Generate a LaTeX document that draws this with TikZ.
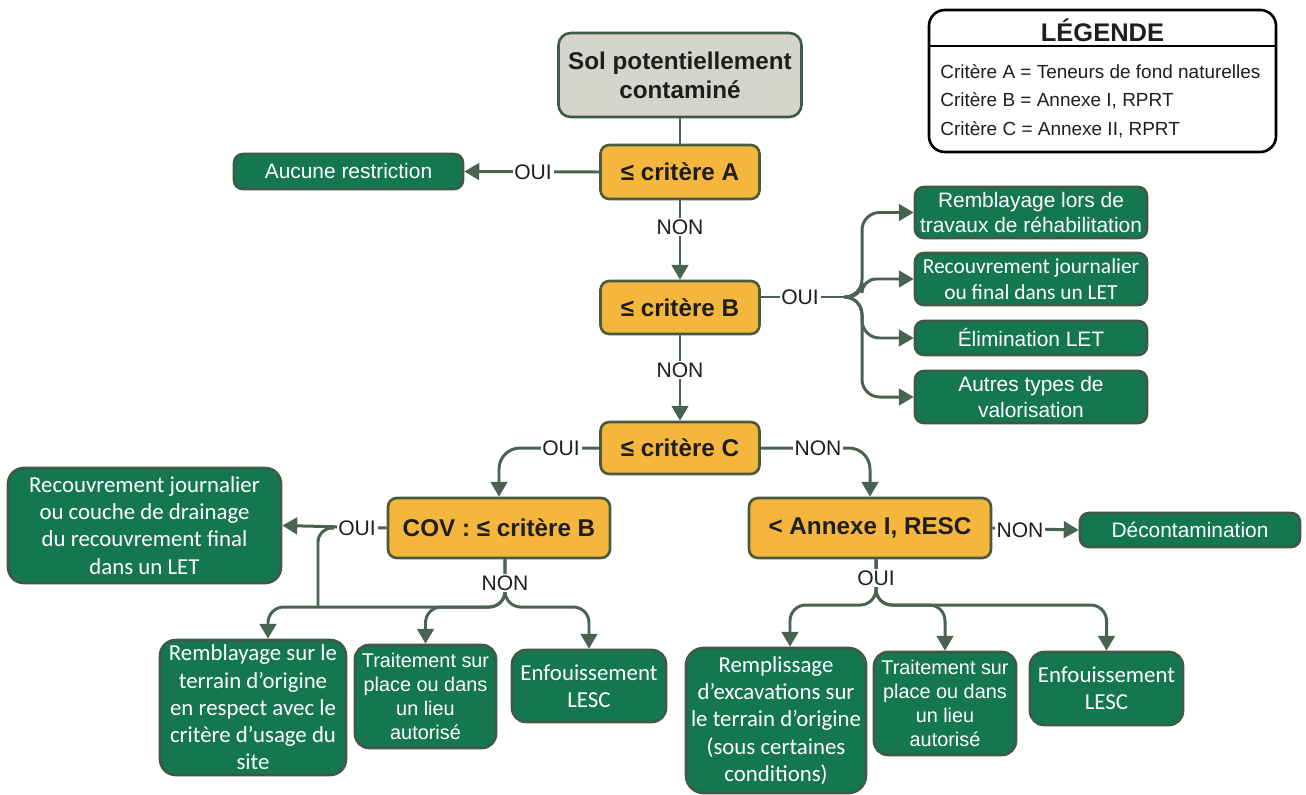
\documentclass[tikz,border=0pt]{standalone}
\usepackage{fontspec}
\setmainfont{Liberation Sans}
\newfontfamily\calib{Carlito}
\usetikzlibrary{arrows.meta}
\definecolor{gfill}{HTML}{157751}
\definecolor{gdraw}{HTML}{3E5A47}
\definecolor{ofill}{HTML}{F4B63C}
\definecolor{odraw}{HTML}{4B5A3E}
\definecolor{sfill}{HTML}{D5D5CD}
\definecolor{lcol}{HTML}{4A6252}
\definecolor{tcol}{HTML}{1E1E1E}
\begin{document}
\begin{tikzpicture}[x=0.02cm,y=-0.02cm,
  sz/.style 2 args={minimum width=#1*0.02cm, minimum height=#2*0.02cm},
  gbox/.style={draw=gdraw, fill=gfill, line width=1.5pt, rounded corners=5pt, text=white, align=center, inner sep=0pt},
  obox/.style={draw=odraw, fill=ofill, line width=1.5pt, rounded corners=5pt, align=center, inner sep=0pt, text=tcol, font=\fontsize{13.8}{16}\selectfont\bfseries},
  ar/.style={font=\fontsize{11.9}{14.5}\selectfont},
  ca/.style={font=\fontsize{13}{15.5}\selectfont\calib},
  cb/.style={font=\fontsize{12.2}{14.6}\selectfont\calib},
  conn/.style={draw=lcol, line width=1.7pt},
  arr/.style={conn, -{Triangle[length=8.5pt,width=9.5pt]}},
  lbl/.style={fill=white, inner sep=1pt, text=tcol, font=\fontsize{12}{14}\selectfont},
]
\useasboundingbox (0,0) rectangle (1306,795);

% nodes
\node[draw=gdraw, fill=sfill, line width=1.5pt, rounded corners=7pt, align=center, inner sep=0pt, text=tcol,
  font=\fontsize{13.8}{16.5}\selectfont\bfseries, sz={243}{84}] (sol) at (680,75) {Sol potentiellement\\contaminé};
\node[obox, sz={159}{54}] (ca) at (680,172) {≤ critère A};
\node[obox, sz={159}{53}] (cbx) at (680,307.5) {≤ critère B};
\node[obox, sz={159}{52}] (cc) at (680,448) {≤ critère C};
\node[obox, sz={222}{60}] (cov) at (499,528) {COV : ≤ critère B};
\node[obox, sz={242}{60}] (ann) at (870,528) {< Annexe I, RESC};

\node[gbox, ar, sz={229}{35}] (auc) at (348.5,171.5) {Aucune restriction};
\node[gbox, ar, sz={232}{51}] (r1) at (1031,212.5) {Remblayage lors de\\travaux de réhabilitation};
\node[gbox, cb, sz={232}{52}] (r2) at (1031,279) {Recouvrement journalier\\ou final dans un LET};
\node[gbox, ar, sz={232}{34}] (r3) at (1031,338) {Élimination LET};
\node[gbox, ar, sz={232}{52}] (r4) at (1031,397) {Autres types de\\valorisation};
\node[gbox, ar, sz={220}{34}] (dec) at (1190,530) {Décontamination};
\node[gbox, ca, sz={273}{115}, rounded corners=9pt] (rec) at (144.5,525.5) {Recouvrement journalier\\ou couche de drainage\\du recouvrement final\\dans un LET};

\node[gbox, ca, sz={186}{135}, rounded corners=9pt] (b1) at (253,707.5) {Remblayage sur le\\terrain d’origine\\en respect avec le\\critère d’usage du\\site};
\node[gbox, font=\fontsize{11.3}{13.6}\selectfont, sz={141}{103}, rounded corners=8pt] (b2) at (425.5,696.5) {Traitement sur\\place ou dans\\un lieu\\autorisé};
\node[gbox, ca, sz={154}{72}, rounded corners=8pt] (b3) at (589,686) {Enfouissement\\LESC};

\node[gbox, ca, sz={180}{145}, rounded corners=10pt] (c1) at (776,720.5) {Remplissage\\d’excavations sur\\le terrain d’origine\\(sous certaines\\conditions)};
\node[gbox, font=\fontsize{11.3}{13.6}\selectfont, sz={142}{103}, rounded corners=8pt] (c2) at (945,703.5) {Traitement sur\\place ou dans\\un lieu\\autorisé};
\node[gbox, ca, sz={153}{73}, rounded corners=8pt] (c3) at (1106.5,688.5) {Enfouissement\\LESC};

% legend
\node[draw=black, line width=1.5pt, rounded corners=9pt, sz={347}{142}, inner sep=0pt] (leg) at (1102.5,81) {};
\draw[black, line width=1.2pt] (leg.west |- 0,46) -- (leg.east |- 0,46);
\node[font=\fontsize{14.5}{17}\selectfont\bfseries, text=tcol] (legt) at (1102.5,30) {LÉGENDE};
\node[anchor=west, font=\fontsize{10.8}{13}\selectfont, text=tcol, inner sep=0pt] (l1) at (940,72) {Critère A = Teneurs de fond naturelles};
\node[anchor=west, font=\fontsize{10.8}{13}\selectfont, text=tcol, inner sep=0pt] (l2) at (940,101) {Critère B = Annexe I, RPRT};
\node[anchor=west, font=\fontsize{10.8}{13}\selectfont, text=tcol, inner sep=0pt] (l3) at (940,130) {Critère C = Annexe II, RPRT};

% connectors
\coordinate (jB) at (850,297);
\coordinate (jL) at (334,528);
\coordinate (bL) at (505,607);
\coordinate (bR) at (876,605);

\draw[conn] (sol) -- (ca);
\draw[arr] (ca.west) -- (auc.east);
\draw[arr] (ca) -- (cbx);
\draw[conn] (cbx.east |- jB) -- (jB);
\draw[arr, rounded corners=10pt] (jB) -- ++(12,0) |- (r1.west);
\draw[arr, rounded corners=8pt] (jB) -- ++(12,0) |- (r2.west);
\draw[arr, rounded corners=10pt] (jB) -- ++(12,0) |- (r3.west);
\draw[arr, rounded corners=10pt] (jB) -- ++(12,0) |- (r4.west);
\draw[arr] (cbx) -- (cc);
\draw[arr, rounded corners=12pt] (cc.west) -| (cov.north);
\draw[arr, rounded corners=12pt] (cc.east) -| (ann.north);
\draw[arr] (cov.west) -- (rec.east);
\draw[conn, rounded corners=8pt] (jL) -| (318,607);
\draw[arr, rounded corners=9pt] (cov.south -| bL) -- (bL) -| (b1.north -| 268,0);
\draw[arr, rounded corners=9pt] (cov.south -| bL) -- (bL) -| (b2.north);
\draw[arr, rounded corners=9pt] (cov.south -| bL) -- (bL) -| (b3.north);
\draw[arr] (ann.east) -- (dec.west);
\draw[arr, rounded corners=9pt] (ann.south -| bR) -- (bR) -| (c1.north -| 790,0);
\draw[arr, rounded corners=9pt] (ann.south -| bR) -- (bR) -| (c2.north);
\draw[arr, rounded corners=9pt] (ann.south -| bR) -- (bR) -| (c3.north);

% labels
\node[lbl] (o1) at (533,172) {OUI};
\node[lbl] (n1) at (680,227) {NON};
\node[lbl] (o2) at (800,297) {OUI};
\node[lbl] (n2) at (680,370) {NON};
\node[lbl] (o3) at (561,448) {OUI};
\node[lbl] (n3) at (818,448) {NON};
\node[lbl] (o4) at (357,528) {OUI};
\node[lbl] (n4) at (505,583) {NON};
\node[lbl] (n5) at (1020,530) {NON};
\node[lbl] (o5) at (876,578) {OUI};
\end{tikzpicture}
\end{document}
